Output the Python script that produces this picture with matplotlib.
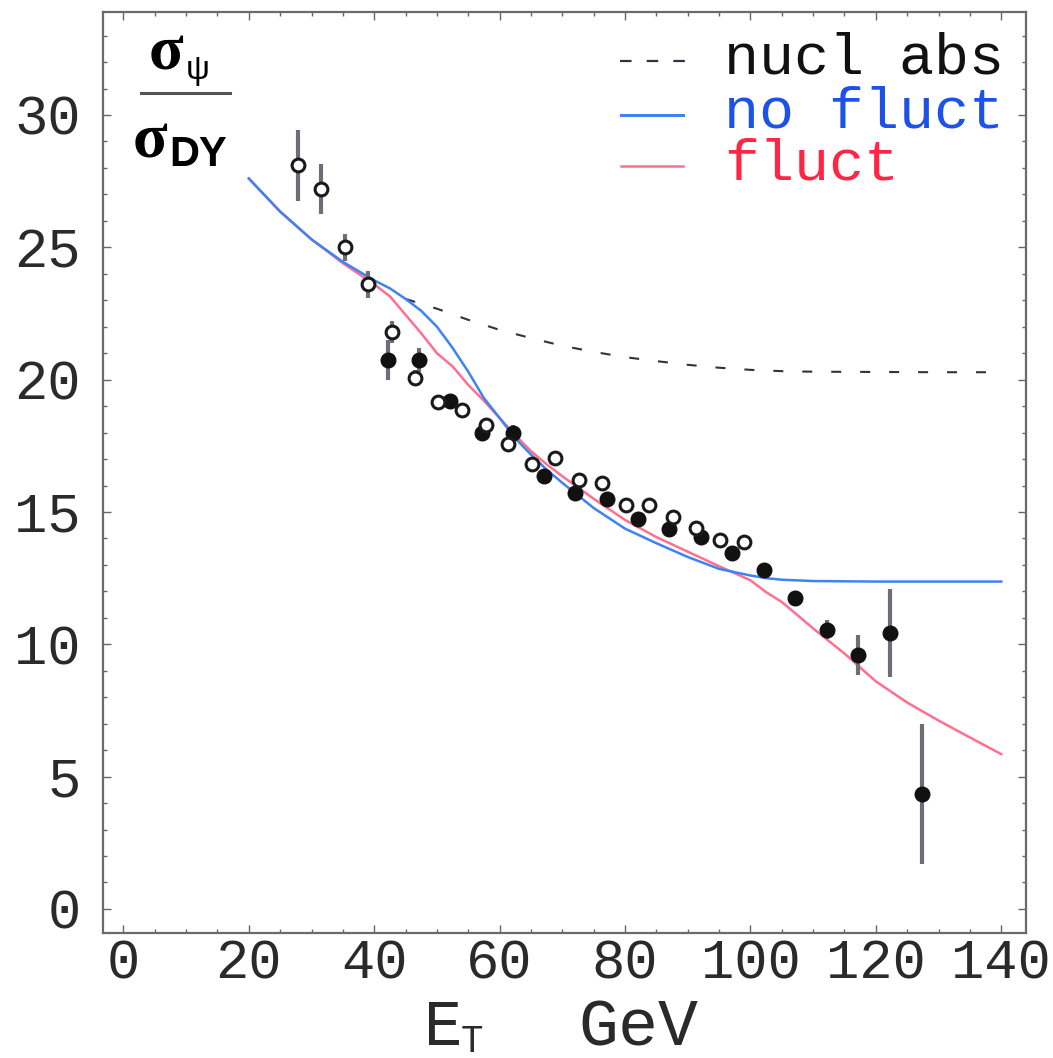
import matplotlib
matplotlib.use("Agg")
import matplotlib.pyplot as plt
from matplotlib.lines import Line2D

# curves
et_curve = [20, 25, 30, 35, 40, 42.5, 45, 47.5, 50, 52.5, 55, 57.5, 60, 62.5, 65, 67.5,
            70, 75, 80, 85, 90, 95, 100, 102.5, 105, 110, 115, 120, 125, 130, 135, 140]
no_fluct = [27.6, 26.35, 25.3, 24.45, 23.75, 23.45, 23.05, 22.6, 22.0, 21.2, 20.3, 19.3,
            18.55, 17.78, 17.17, 16.6, 16.1, 15.15, 14.37, 13.82, 13.3, 12.85, 12.6, 12.5,
            12.44, 12.39, 12.38, 12.37, 12.37, 12.37, 12.37, 12.37]
fluct = [27.6, 26.35, 25.3, 24.4, 23.6, 23.15, 22.45, 21.75, 21.0, 20.5, 19.8, 19.2,
         18.55, 17.9, 17.3, 16.8, 16.35, 15.5, 14.7, 14.05, 13.5, 12.95, 12.42, 11.97,
         11.6, 10.6, 9.65, 8.6, 7.8, 7.12, 6.48, 5.85]

et_abs = [45, 50, 55, 60, 65, 70, 75, 80, 85, 90, 95, 100, 105, 110, 120, 130, 140]
nucl_abs = [23.05, 22.68, 22.26, 21.88, 21.57, 21.28, 21.05, 20.85, 20.7, 20.56, 20.45,
            20.37, 20.32, 20.3, 20.29, 20.28, 20.28]

# data points
open_et = [27.9, 31.5, 35.4, 39.0, 42.9, 46.5, 50.2, 54.0, 57.8, 61.3, 65.2, 68.9, 72.7,
           76.4, 80.2, 83.9, 87.6, 91.3, 95.2, 98.9]
open_val = [28.1, 27.2, 25.0, 23.6, 21.8, 20.05, 19.15, 18.85, 18.3, 17.55, 16.8, 17.05,
            16.2, 16.1, 15.25, 15.25, 14.8, 14.4, 13.95, 13.85]
open_err = [1.35, 0.95, 0.5, 0.5, 0.4, 0.3, 0.2, 0.2, 0.2, 0.2, 0.2, 0.2, 0.2, 0.2, 0.2,
            0.2, 0.25, 0.2, 0.2, 0.2]

full_et = [42.2, 47.2, 52.1, 57.2, 62.1, 67.1, 72.0, 77.1, 82.0, 87.0, 92.1, 97.0, 102.1,
           107.1, 112.2, 117.2, 122.3, 127.4]
full_val = [20.75, 20.75, 19.2, 18.0, 18.0, 16.35, 15.7, 15.5, 14.75, 14.35, 14.05, 13.45,
            12.8, 11.75, 10.55, 9.6, 10.42, 4.35]
full_err = [0.75, 0.45, 0.25, 0.3, 0.3, 0.25, 0.25, 0.25, 0.25, 0.25, 0.25, 0.25, 0.25,
            0.25, 0.35, 0.75, 1.66, 2.64]

W, H = 1053, 1058
BLUE_LINE = "#3f82f2"
RED_LINE = "#ff6f8e"
BLUE_TXT = "#1c52e8"
RED_TXT = "#ff2545"
TXT = "#2a2a2a"
mono = "Liberation Mono"


def fp(x, y):
    # pixel position -> figure fraction
    return x / W, 1 - y / H


fig = plt.figure(figsize=(W / 100, H / 100), dpi=100)
ax = fig.add_axes([102.7 / W, 1 - 933.3 / H, (1025.7 - 102.7) / W, (933.3 - 12.3) / H])

ax.plot(et_curve, fluct, color=RED_LINE, lw=1.8, zorder=2)
ax.plot(et_curve, no_fluct, color=BLUE_LINE, lw=1.8, zorder=3)
ax.plot(et_abs, nucl_abs, color="#333340", lw=1.5, ls=(0, (4.8, 9.1)), zorder=2)

ax.errorbar(full_et, full_val, yerr=full_err, fmt="o", ms=10.5, mfc="#111111",
            mec="#111111", ecolor="#6e6e78", elinewidth=3, capsize=0, zorder=4)
ax.errorbar(open_et, open_val, yerr=open_err, fmt="o", ms=9.2, mfc="white",
            mec="#1a1a1a", mew=2.2, ecolor="#6e6e78", elinewidth=3, capsize=0, zorder=5)

ax.set_xlim(-3.3, 143.9)
ax.set_ylim(-0.92, 33.88)
ax.set_xticks(range(0, 141, 20))
ax.set_xticks(range(0, 141, 5), minor=True)
ax.set_yticks(range(0, 31, 5))
ax.set_yticks(range(0, 34), minor=True)

for side in ax.spines.values():
    side.set_color("#6a6a6a")
    side.set_linewidth(1.6)

ax.tick_params(which="both", direction="in", top=True, right=True, color="#666666",
               labelcolor=TXT, width=1.0)
ax.tick_params(which="major", length=6)
ax.tick_params(which="minor", length=3.2)
ax.tick_params(axis="x", which="major", pad=4)
ax.tick_params(axis="y", which="major", pad=16)
for lab in ax.get_xticklabels() + ax.get_yticklabels():
    lab.set_fontfamily(mono)
    lab.set_fontsize(40)

# y label as a fraction inside the frame
fig.text(*fp(149, 70), "σ", family="Liberation Serif", weight="bold", fontsize=46,
         va="baseline", ha="left")
fig.text(*fp(186, 79), "ψ", family="Liberation Sans", fontsize=24, va="baseline", ha="left")
fig.add_artist(Line2D([140.7 / W, 230 / W], [1 - 92.7 / H] * 2, color="#555555", lw=2.2))
fig.text(*fp(133, 157), "σ", family="Liberation Serif", weight="bold", fontsize=46,
         va="baseline", ha="left")
fig.text(*fp(169, 165.7), "DY", family="Liberation Sans", weight="bold", fontsize=30,
         va="baseline", ha="left")

# x label
fig.text(*fp(424, 1045), "E", family=mono, fontsize=46, color=TXT, va="baseline", ha="left")
fig.text(*fp(461, 1052), "T", family=mono, fontsize=27, color=TXT, va="baseline", ha="left")
fig.text(*fp(578, 1045), "GeV", family=mono, fontsize=48, color=TXT, va="baseline", ha="left")

# legend
fig.add_artist(Line2D([620 / W, 688 / W], [1 - 61 / H] * 2, color="#333340", lw=1.6,
                      ls=(0, (5.2, 6.8))))
fig.add_artist(Line2D([620.7 / W, 683.3 / W], [1 - 115 / H] * 2, color=BLUE_LINE, lw=2.2))
fig.add_artist(Line2D([620.7 / W, 683.3 / W], [1 - 165.7 / H] * 2, color=RED_LINE, lw=1.8))
fig.text(*fp(724, 74), "nucl abs", family=mono, fontsize=42, color="#111111", va="baseline")
fig.text(*fp(724, 128), "no fluct", family=mono, fontsize=42, color=BLUE_TXT, va="baseline")
fig.text(*fp(724, 180), "fluct", family=mono, fontsize=42, color=RED_TXT, va="baseline")

fig.savefig("out.png", dpi=100, facecolor="white")
